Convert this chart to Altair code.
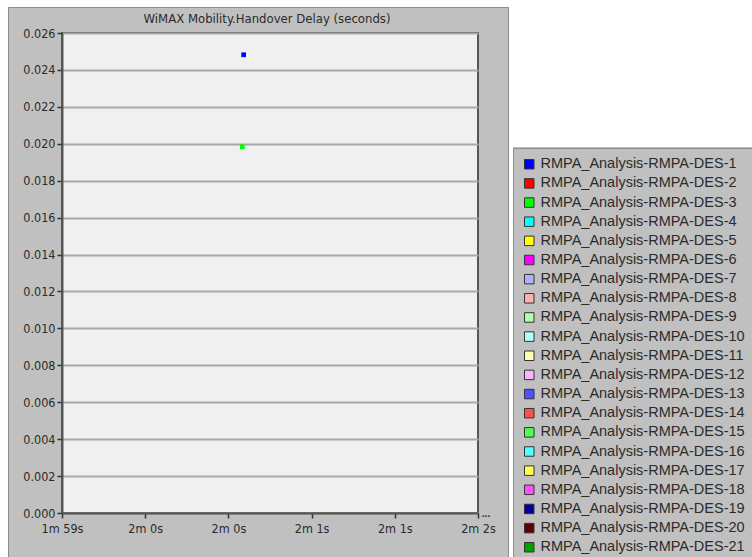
import altair as alt
import pandas as pd

# Series shown in the legend and their colours
series_names = [f"RMPA_Analysis-RMPA-DES-{i}" for i in range(1, 22)]
series_colors = [
    "#0000ff", "#ff0000", "#00ff00", "#00ffff", "#ffff00", "#ff00ff",
    "#b0b0ff", "#ffb0b0", "#b0ffb0", "#b0ffff", "#ffffb0", "#ffb0ff",
    "#5050ff", "#ff5050", "#50ff50", "#50ffff", "#ffff50", "#ff50ff",
    "#0000a0", "#600000", "#00a000",
]

# Recorded handover delays (simulation time in seconds, delay in seconds)
point_series = ["RMPA_Analysis-RMPA-DES-1", "RMPA_Analysis-RMPA-DES-3"]
point_time_s = [120.31, 120.30]
point_delay_s = [0.02482, 0.01984]

# Axis ticks
x_ticks = [119.0, 119.6, 120.2, 120.8, 121.4, 122.0]
y_ticks = [0.000, 0.002, 0.004, 0.006, 0.008, 0.010, 0.012, 0.014,
           0.016, 0.018, 0.020, 0.022, 0.024, 0.026]

chart_title = "WiMAX Mobility.Handover Delay (seconds)"

NARROW = "Liberation Sans Narrow, DejaVu Sans Condensed, Arial Narrow, Liberation Sans, sans-serif"
TEXT = "#2b2b2b"

points = pd.DataFrame({
    "series": point_series,
    "time": point_time_s,
    "delay": point_delay_s,
})

W, H = 416, 480
PAD_L, PAD_T, PAD_R, PAD_B = 62, 33, 274, 44

x_scale = alt.Scale(domain=[x_ticks[0], x_ticks[-1]], nice=False, zero=False)
y_scale = alt.Scale(domain=[y_ticks[0], y_ticks[-1]], nice=False)

pts = alt.Chart(points).mark_square(size=22, opacity=1).encode(
    x=alt.X("time:Q", scale=x_scale, title=None,
            axis=alt.Axis(values=x_ticks, grid=False, tickSize=5,
                          tickColor="#333", tickWidth=1.5,
                          domainColor="#555", domainWidth=2,
                          labelExpr="floor(round(datum.value)/60) + 'm ' + (round(datum.value) % 60) + 's'",
                          labelFont=NARROW, labelFontSize=12.5, labelColor=TEXT,
                          labelPadding=4, labelFlush=False)),
    y=alt.Y("delay:Q", scale=y_scale, title=None,
            axis=alt.Axis(values=y_ticks, format=".3f", grid=True,
                          gridColor="#a8a8a8", gridWidth=2,
                          tickSize=5, tickColor="#333", tickWidth=1.5,
                          domainColor="#555", domainWidth=2,
                          labelFont=NARROW, labelFontSize=12.5, labelColor=TEXT,
                          labelPadding=2)),
    color=alt.Color("series:N",
                    scale=alt.Scale(domain=series_names, range=series_colors),
                    legend=alt.Legend(title=None, orient="none",
                                      legendX=451, legendY=115,
                                      symbolType="square", symbolSize=90,
                                      symbolStrokeColor="#333",
                                      symbolStrokeWidth=1, symbolOpacity=1,
                                      labelFont="Liberation Sans",
                                      labelFontSize=14.5, labelColor=TEXT,
                                      rowPadding=4.15, padding=9,
                                      fillColor="#c0c0c0",
                                      strokeColor="#8c8c8c",
                                      labelLimit=400, symbolLimit=50)),
)

# White page areas around the grey chart panel
frame = pd.DataFrame({
    "x": [-PAD_L, 447, -PAD_L, 447],
    "x2": [W + PAD_R, W + PAD_R, -54, 451],
    "y": [-PAD_T, -PAD_T + 7, -PAD_T, 114],
    "y2": [-PAD_T + 7, 114, H + PAD_B, H + PAD_B],
})
white = alt.Chart(frame).mark_rect(color="white").encode(
    x=alt.X("x:Q", scale=None), x2="x2:Q",
    y=alt.Y("y:Q", scale=None), y2="y2:Q",
)

# Panel outline
panel = alt.Chart(pd.DataFrame({"k": [0]})).mark_rect(
    fill=None, stroke="#8c8c8c", strokeWidth=1
).encode(
    x=alt.value(-53.5), x2=alt.value(446.5),
    y=alt.value(-25.5), y2=alt.value(H + PAD_B + 5),
)

# Chart heading inside the panel
heading = alt.Chart(pd.DataFrame({"t": [chart_title]})).mark_text(
    font=NARROW, fontSize=13, color=TEXT, align="center", baseline="middle"
).encode(
    text="t:N", x=alt.value(W / 2 - 3), y=alt.value(-14),
)

# Ellipsis marker at the end of the time axis
more = alt.Chart(pd.DataFrame({"t": ["..."]})).mark_text(
    font="Liberation Sans", fontSize=10, fontWeight="bold", color=TEXT,
    align="center", baseline="bottom"
).encode(
    text="t:N", x=alt.value(W + 8), y=alt.value(H + 6),
)

chart = alt.layer(white, panel, heading, more, pts).properties(
    width=W, height=H,
    background="#c0c0c0",
    padding={"left": PAD_L, "top": PAD_T, "right": PAD_R, "bottom": PAD_B},
    autosize=alt.AutoSizeParams(type="none"),
).configure_view(
    fill="#f0f0f0", stroke="#555", strokeWidth=2,
)

chart.save("out.html", embed_options={"renderer": "svg", "actions": False})
